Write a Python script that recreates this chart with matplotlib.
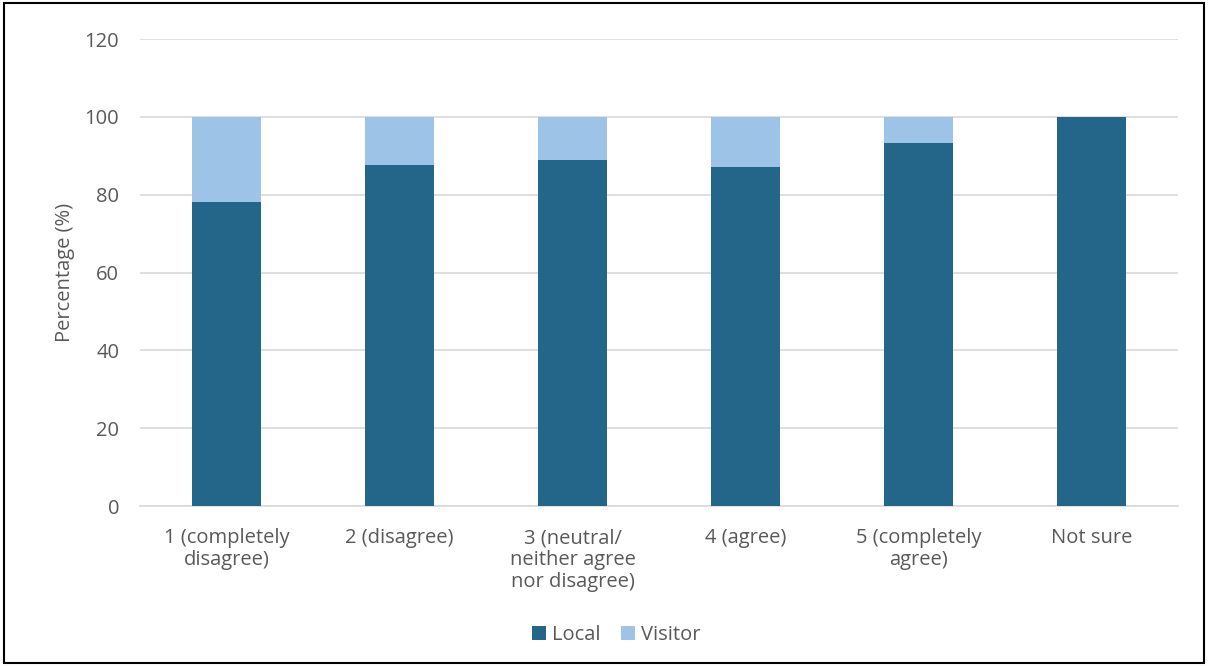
import matplotlib
matplotlib.use("Agg")
import matplotlib.pyplot as plt
from matplotlib.patches import Rectangle
import numpy as np

# Chart data
categories = ["1 (completely\ndisagree)", "2 (disagree)", "3 (neutral/\nneither agree\nnor disagree)",
              "4 (agree)", "5 (completely\nagree)", "Not sure"]
local = [78.1, 87.7, 89.0, 87.1, 93.2, 100.0]
visitor = [21.9, 12.3, 11.0, 12.9, 6.8, 0.0]
yticks = [0, 20, 40, 60, 80, 100, 120]

plt.rcParams['font.family'] = ['Open Sans', 'DejaVu Sans']
text_color = '#595959'
fs = 14.5

fig = plt.figure(figsize=(12.08, 6.66), dpi=100)
ax = fig.add_axes([0.1159, 0.2402, 0.8593, 0.7012])

x = np.arange(len(categories))
ax.bar(x, local, width=0.4, color='#23668A', label='Local', zorder=3)
ax.bar(x, visitor, width=0.4, bottom=local, color='#9DC3E6', label='Visitor', zorder=3)

ax.set_xlim(-0.5, len(categories) - 0.5)
ax.set_ylim(0, 120)
ax.set_yticks(yticks)
ax.yaxis.grid(True, color='#D9D9D9', linewidth=1.2, zorder=0)
ax.set_axisbelow(True)
for s in ['top', 'right', 'left']:
    ax.spines[s].set_visible(False)
ax.spines['bottom'].set_color('#D9D9D9')
ax.spines['bottom'].set_linewidth(1.2)
ax.tick_params(axis='both', length=0, colors=text_color, labelsize=fs)
ax.tick_params(axis='y', pad=15)
ax.tick_params(axis='x', pad=16)
ax.set_xticks(x)
ax.set_xticklabels(categories, linespacing=1.12)
ax.set_ylabel('Percentage (%)', color=text_color, fontsize=fs, labelpad=7)

fig.legend(loc='center', bbox_to_anchor=(0.51, 0.047), ncol=2, frameon=False,
           handlelength=0.7, handleheight=0.7, handletextpad=0.3, columnspacing=1.0,
           fontsize=fs, labelcolor=text_color)

# Outer border of the chart
fig.patches.append(Rectangle((0.003, 0.004), 0.994, 0.992, transform=fig.transFigure,
                             fill=False, edgecolor='black', linewidth=1.5))

plt.savefig('out.png', dpi=100)
